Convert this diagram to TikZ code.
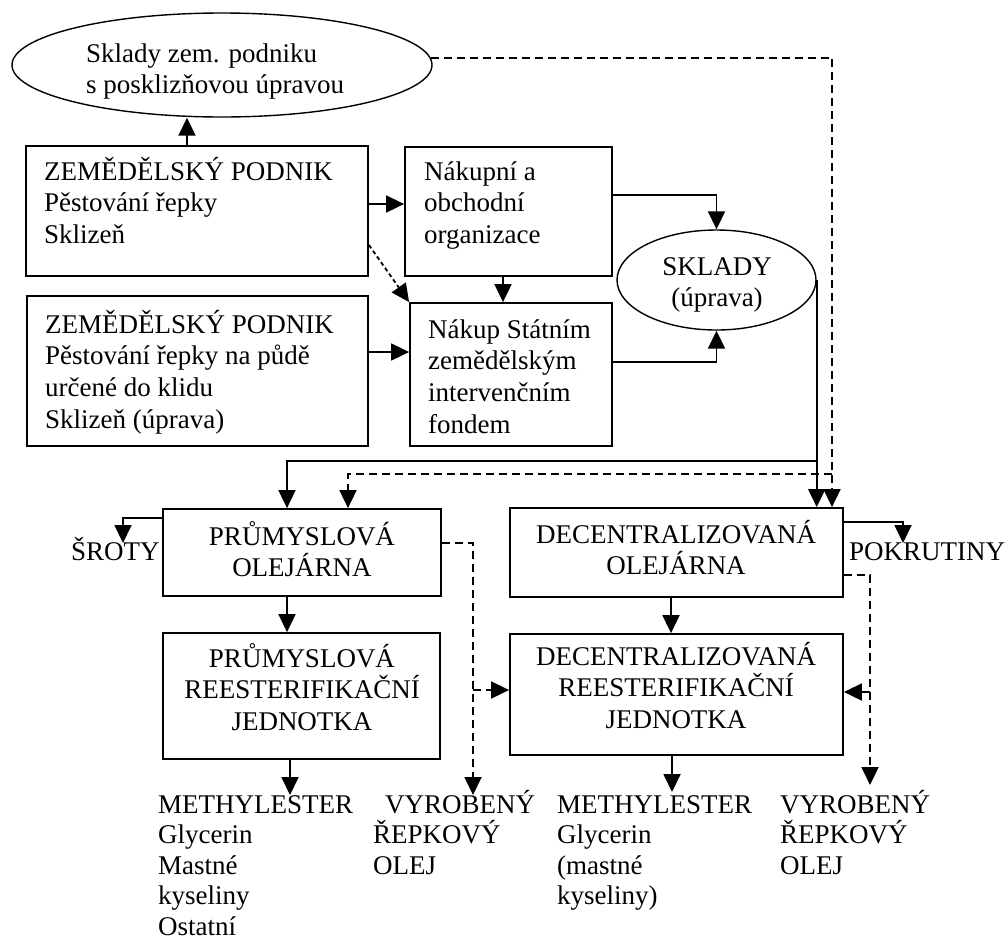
\documentclass[tikz,border=0pt]{standalone}
\usepackage{fontspec}
\setmainfont{Liberation Serif}
\usetikzlibrary{arrows.meta,shapes.geometric}

% fixed height for the first line of every text block
\newcommand\fst{\rule{0pt}{26pt}}

\begin{document}
\begin{tikzpicture}[x=1pt,y=-1pt,
  every node/.style={font=\fontsize{27}{31.6}\selectfont},
  box/.style={draw, line width=1.8pt, inner sep=0pt},
  oval/.style={draw, ellipse, line width=1.4pt, inner sep=0pt},
  txtl/.style={inner sep=0pt, align=left, anchor=north west},
  txtc/.style={inner sep=0pt, align=center, anchor=north},
  outl/.style={txtl, font=\fontsize{27}{30.5}\selectfont},
  conn/.style={line width=1.8pt},
  arr/.style={conn, -{Triangle[length=18pt,width=17pt]}},
  dsh/.style={dash pattern=on 8pt off 5pt},
  fine/.style={dash pattern=on 4pt off 3pt}
]
\useasboundingbox (0,0) rectangle (1008,940);
\fill[white] (0,0) rectangle (1008,940);

% ---- shapes ----
\node[oval, minimum width=420pt, minimum height=104pt] (ell1) at (222,65) {};
\node[box, minimum width=342pt, minimum height=130pt] (zp1) at (197,211) {};
\node[box, minimum width=207pt, minimum height=129pt] (nak) at (508.5,211.5) {};
\node[oval, minimum width=199pt, minimum height=100pt] (sk) at (716.5,280) {};
\node[box, minimum width=341pt, minimum height=150pt] (zp2) at (197.5,371) {};
\node[box, minimum width=202pt, minimum height=143pt] (szif) at (511,374.5) {};
\node[box, minimum width=278pt, minimum height=87pt] (po) at (302,552.5) {};
\node[box, minimum width=277pt, minimum height=126pt] (pr) at (301.5,696) {};
\node[box, minimum width=333pt, minimum height=89pt] (do) at (676.5,552.5) {};
\node[box, minimum width=333pt, minimum height=121pt] (dr) at (676.5,694.5) {};

% ---- texts ----
\node[txtl] (ell1t) at (86,36) {\fst Sklady zem. podniku\\s posklizňovou úpravou};
\node[txtl] (zp1t) at (44,154) {\fst ZEMĚDĚLSKÝ PODNIK\\Pěstování řepky\\Sklizeň};
\node[txtl] (nakt) at (424,154) {\fst Nákupní a\\obchodní\\organizace};
\node[txtc] (skt) at (717,249) {\fst SKLADY\\(úprava)};
\node[txtl] (zp2t) at (45,307) {\fst ZEMĚDĚLSKÝ PODNIK\\Pěstování řepky na půdě\\určené do klidu\\Sklizeň (úprava)};
\node[txtl] (szift) at (428,312) {\fst Nákup Státním\\zemědělským\\intervenčním\\fondem};
\node[txtc] (pot) at (302,519) {\fst PRŮMYSLOVÁ\\OLEJÁRNA};
\node[txtc] (prt) at (302,641) {\fst PRŮMYSLOVÁ\\REESTERIFIKAČNÍ\\JEDNOTKA};
\node[txtc] (dot) at (676,517) {\fst DECENTRALIZOVANÁ\\OLEJÁRNA};
\node[txtc] (drt) at (676,639) {\fst DECENTRALIZOVANÁ\\REESTERIFIKAČNÍ\\JEDNOTKA};
\node[inner sep=0pt, anchor=base west] (srot) at (71,560) {ŠROTY};
\node[inner sep=0pt, anchor=base west] (pok) at (849,560) {POKRUTINY};
\node[outl] (me1) at (158,787) {\fst METHYLESTER\\Glycerin\\Mastné\\kyseliny\\Ostatní};
\node[outl] (vy1) at (373,787) {\fst\hspace{12pt}VYROBENÝ\\ŘEPKOVÝ\\OLEJ};
\node[outl] (me2) at (557,787) {\fst METHYLESTER\\Glycerin\\(mastné\\kyseliny)};
\node[outl] (vy2) at (780,787) {\fst VYROBENÝ\\ŘEPKOVÝ\\OLEJ};

% ---- routing helpers ----
\coordinate (x123) at (123,0);
\coordinate (x187) at (187,0);
\coordinate (x287) at (287,0);
\coordinate (x290) at (290,0);
\coordinate (x348) at (348,0);
\coordinate (x473) at (473,0);
\coordinate (x503) at (503,0);
\coordinate (x671) at (671,0);
\coordinate (x672) at (672,0);
\coordinate (x832) at (832,0);
\coordinate (x870) at (870,0);
\coordinate (x903) at (903,0);
\coordinate (y195) at (0,195);
\coordinate (y204) at (0,204);
\coordinate (y245) at (0,245);
\coordinate (y352) at (0,352);
\coordinate (y362) at (0,362);
\coordinate (y461) at (0,461);
\coordinate (y474) at (0,474);
\coordinate (y518) at (0,518);
\coordinate (y522) at (0,522);
\coordinate (y543) at (0,543);
\coordinate (y575) at (0,575);
\coordinate (y690) at (0,690);
\coordinate (y692) at (0,692);
\coordinate (y785) at (0,785);
\coordinate (y792) at (0,792);
\coordinate (y795) at (0,795);

% ---- connectors ----
\draw[arr] (zp1.north -| x187) -- (ell1.south -| x187);
\draw[arr] (zp1.east |- y204) -- (nak.west |- y204);
\draw[arr] (nak.east |- y195) -| (sk.north);
\draw[arr] (nak.south -| x503) -- (szif.north -| x503);
\draw[arr, fine] (zp1.east |- y245) -- (szif.north west);
\draw[arr] (zp2.east |- y352) -- (szif.west |- y352);
\draw[arr] (szif.east |- y362) -| (sk.south);
\draw[arr] (sk.east) -- (sk.east |- do.north);
\draw[arr] (sk.east |- y461) -| (po.north -| x287);
\draw[arr, dsh] (ell1.2) -| (do.north -| x832);
\draw[arr, dsh] (x832 |- y474) -| (po.north -| x348);
\draw[arr] (po.west |- y518) -| (x123 |- y543);
\draw[arr] (do.east |- y522) -| (x903 |- y543);
\draw[arr] (po.south -| x287) -- (pr.north -| x287);
\draw[arr] (do.south -| x671) -- (dr.north -| x671);
\draw[arr, dsh] (po.east |- y543) -| (x473 |- y795);
\draw[arr, dsh] (x473 |- y690) -- (dr.west |- y690);
\draw[arr, dsh] (do.east |- y575) -| (x870 |- y785);
\draw[arr, dsh] (x870 |- y692) -- (dr.east |- y692);
\draw[arr] (pr.south -| x290) -- (x290 |- y795);
\draw[arr] (dr.south -| x672) -- (x672 |- y792);
\end{tikzpicture}
\end{document}
